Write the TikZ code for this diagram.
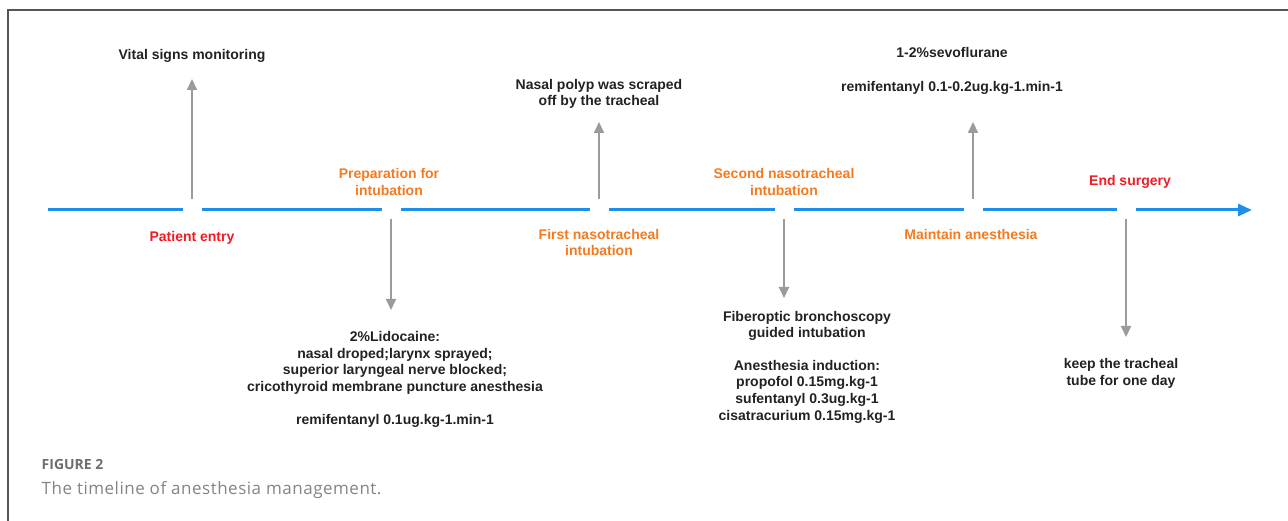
\documentclass[tikz,border=0pt]{standalone}
\usepackage{fontspec}
\setmainfont{Liberation Sans}
\newfontfamily\capfontwide[LetterSpace=3]{Open Sans}
\newfontfamily\labfont{Open Sans}
\usetikzlibrary{arrows.meta,calc}
\definecolor{tlblue}{HTML}{1E8FEA}
\definecolor{tlorange}{HTML}{F57A1F}
\definecolor{tlred}{HTML}{EE1C25}
\definecolor{arrgray}{HTML}{9B9B9B}
\definecolor{txt}{HTML}{222222}
\definecolor{framegray}{HTML}{555555}
\definecolor{capgray}{HTML}{6D6E71}
\begin{document}
\begin{tikzpicture}[x=1pt,y=-1pt,
  lbl/.style={font=\bfseries\fontsize{14}{16.6}\selectfont, align=center, text=txt, inner sep=0pt},
  evred/.style={lbl, text=tlred},
  evorange/.style={lbl, text=tlorange},
  tl/.style={draw=tlblue, line width=3pt},
  ga/.style={draw=arrgray, line width=2pt, -{Triangle[length=11pt,width=10pt]}},
  frame/.style={draw=framegray, line width=1.3pt}]
\useasboundingbox (0,0) rectangle (1288,521);
\draw[frame] (8,521) -- (8,10) -- (1288,10);

% timeline points
\coordinate (t0) at (48,210);
\coordinate (p1) at (192,210);
\coordinate (p2) at (391,210);
\coordinate (p3) at (599,210);
\coordinate (p4) at (784,210);
\coordinate (p5) at (973,210);
\coordinate (p6) at (1126,210);
\coordinate (t7) at (1252,210);

\draw[tl] (t0) -- ($(p1)+(-9.5,0)$);
\draw[tl] ($(p1)+(9.5,0)$) -- ($(p2)+(-9.5,0)$);
\draw[tl] ($(p2)+(9.5,0)$) -- ($(p3)+(-9.5,0)$);
\draw[tl] ($(p3)+(9.5,0)$) -- ($(p4)+(-9.5,0)$);
\draw[tl] ($(p4)+(9.5,0)$) -- ($(p5)+(-9.5,0)$);
\draw[tl] ($(p5)+(9.5,0)$) -- ($(p6)+(-9.5,0)$);
\draw[tl, -{Triangle[length=14pt,width=12pt]}] ($(p6)+(9.5,0)$) -- (t7);

% event labels on the line
\node[evred] (entry) at (192,238) {Patient entry};
\node[evorange] (prep) at (389,182) {Preparation for\\intubation};
\node[evorange] (first) at (599,242.5) {First nasotracheal\\intubation};
\node[evorange] (second) at (784,182) {Second nasotracheal\\intubation};
\node[evorange] (maint) at (971,234) {Maintain anesthesia};
\node[evred] (endsurg) at (1130,182) {End surgery};

% detail texts
\node[lbl] (vital) at (192,56) {Vital signs monitoring};
\node[lbl] (polyp) at (599,94) {Nasal polyp was scraped\\off by the tracheal};
\node[lbl] (sevo) at (952,71) {1-2\%sevoflurane\\[17pt]remifentanyl 0.1-0.2ug.kg-1.min-1};
\node[lbl] (lido) at (395,379.5) {2\%Lidocaine:\\nasal droped;larynx sprayed;\\superior laryngeal nerve blocked;\\cricothyroid membrane puncture anesthesia\\[16.6pt]remifentanyl 0.1ug.kg-1.min-1};
\node[lbl] (fiber) at (807,367) {Fiberoptic bronchoscopy\\guided intubation\\[16pt]Anesthesia induction:\\propofol 0.15mg.kg-1\\sufentanyl 0.3ug.kg-1\\cisatracurium 0.15mg.kg-1};
\node[lbl] (keep) at (1121,373.5) {keep the tracheal\\tube for one day};

% arrows
\draw[ga] ($(p1)+(0,-11)$) -- ($(p1)+(0,-131)$);
\draw[ga] ($(p3)+(0,-11)$) -- ($(p3)+(0,-88)$);
\draw[ga] ($(p5)+(0,-11)$) -- ($(p5)+(0,-88)$);
\draw[ga] ($(p2)+(0,9)$) -- ($(p2)+(0,100)$);
\draw[ga] ($(p4)+(0,9)$) -- ($(p4)+(0,88)$);
\draw[ga] ($(p6)+(0,9)$) -- ($(p6)+(0,127)$);

% caption
\node[anchor=base west, inner sep=0pt, font=\labfont\bfseries\fontsize{14}{16}\selectfont, text=capgray] (figlab) at (41.5,469) {FIGURE 2};
\node[anchor=base west, inner sep=0pt, font=\capfontwide\fontsize{17}{19}\selectfont, text=capgray!85] (figcap) at (41.5,494) {The timeline of anesthesia management.};
\end{tikzpicture}
\end{document}
